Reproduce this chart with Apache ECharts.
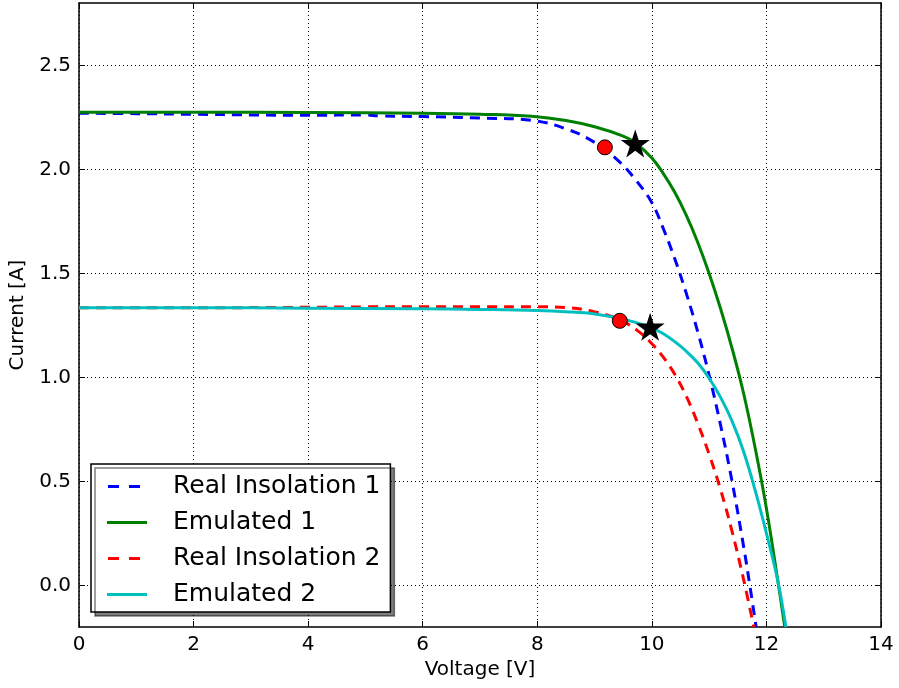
<!DOCTYPE html>
<html>
<head>
<meta charset="utf-8">
<script src="https://cdn.jsdelivr.net/npm/echarts@6/dist/echarts.min.js"></script>
<style>
  html, body { margin: 0; padding: 0; background: #fff; }
  #chart { width: 899px; height: 688px; }
</style>
</head>
<body>
<div id="chart"></div>
<script>
// I-V curves, [voltage, current] pairs
const real1 = [
  [0, 2.27], [1, 2.268], [2, 2.265], [3, 2.262], [4, 2.26], [5, 2.262], [5.25, 2.257],
  [6, 2.254], [7, 2.247], [7.9, 2.236], [8.5, 2.195], [9, 2.13], [9.44, 2.035],
  [9.73, 1.945], [10, 1.84], [10.2, 1.715], [10.4, 1.57], [10.6, 1.405], [10.8, 1.22],
  [11.0, 1.01], [11.2, 0.77], [11.4, 0.5], [11.6, 0.19], [11.71, 0.0], [11.82, -0.2],
];
const emulated1 = [
  [0, 2.275], [2, 2.275], [4, 2.274], [6, 2.27], [7, 2.265], [7.9, 2.255], [8.5, 2.235],
  [9, 2.205], [9.5, 2.16], [9.71, 2.128], [10, 2.055], [10.2, 1.98], [10.4, 1.89],
  [10.6, 1.78], [10.8, 1.65], [11.0, 1.5], [11.2, 1.33], [11.4, 1.14], [11.6, 0.925],
  [11.8, 0.665], [12.0, 0.37], [12.2, 0.02], [12.32, -0.2],
];
const real2 = [
  [0, 1.335], [2, 1.335], [4, 1.337], [5, 1.339], [6, 1.34], [7, 1.34], [8, 1.34],
  [8.5, 1.336], [9, 1.315], [9.44, 1.277], [9.75, 1.225], [10, 1.162], [10.2, 1.097],
  [10.4, 1.015], [10.6, 0.91], [10.8, 0.78], [11.0, 0.63], [11.2, 0.46], [11.4, 0.26],
  [11.6, 0.03], [11.78, -0.2],
];
const emulated2 = [
  [0, 1.335], [2, 1.335], [4, 1.333], [6, 1.33], [7, 1.327], [8, 1.322], [8.5, 1.316],
  [9, 1.305], [9.5, 1.28], [9.97, 1.242], [10.2, 1.21], [10.4, 1.172], [10.6, 1.126],
  [10.8, 1.07], [11.0, 0.996], [11.2, 0.904], [11.4, 0.79], [11.6, 0.645], [11.8, 0.46],
  [12.0, 0.25], [12.2, 0.02], [12.34, -0.2],
];
// operating points
const mppReal = [[9.18, 2.106], [9.44, 1.272]];
const mppEmulated = [[9.71, 2.125], [9.97, 1.243]];

const legendNames = ['Real Insolation 1', 'Emulated 1', 'Real Insolation 2', 'Emulated 2'];
const yTickValues = [0, 0.5, 1, 1.5, 2, 2.5];
const xRange = { min: 0, max: 14, interval: 2 };
const yRange = { min: -0.2, max: 2.8 };

const font = 'DejaVu Sans, sans-serif';
const gridLine = { show: true, lineStyle: { color: '#000', type: [1, 3], width: 1 } };
const frame = { show: true, onZero: false, lineStyle: { color: '#000', width: 1.5 } };
const tickIn = { show: true, inside: true, length: 6, lineStyle: { color: '#000', width: 1 } };
const solidIcon = 'path://M0,0H40V3H0Z';
const dashIcon = 'path://M0,0L0,3M1,0H12V3H1Z M22,0H33V3H22Z M40,0L40,3';

const chart = echarts.init(document.getElementById('chart'), null, { renderer: 'canvas' });

function lineSeries(name, data, color, dashed) {
  return {
    name, type: 'line', data, symbol: 'none', smooth: 0.4,
    xAxisIndex: 0, yAxisIndex: 0, z: 3,
    lineStyle: { color, width: 3, type: dashed ? [10, 7] : 'solid' },
    itemStyle: { color },
  };
}

chart.setOption({
  animation: false,
  textStyle: { fontFamily: font },
  grid: { left: 79, right: 18, top: 3, bottom: 61 },
  legend: {
    data: legendNames.map((n, i) => ({ name: n, icon: i % 2 === 0 ? dashIcon : solidIcon })),
    orient: 'vertical', left: 91, top: 464,
    itemWidth: 40, itemHeight: 3, itemGap: 11,
    padding: [10, 10, 5, 16],
    itemStyle: { borderWidth: 0 },
    backgroundColor: '#fff', borderColor: '#000', borderWidth: 1.5, borderRadius: 0,
    shadowColor: 'rgba(0,0,0,0.5)', shadowOffsetX: 4, shadowOffsetY: 4, shadowBlur: 0,
    textStyle: { fontSize: 25, lineHeight: 25, color: '#000', fontFamily: font, padding: [0, 0, 0, 21] },
  },
  xAxis: [
    {
      type: 'value', ...xRange, position: 'bottom',
      name: 'Voltage [V]', nameLocation: 'middle', nameGap: 29,
      nameTextStyle: { fontSize: 20, color: '#000', fontFamily: font },
      axisLine: frame, axisTick: tickIn, splitLine: gridLine,
      axisLabel: { fontSize: 20, color: '#000', margin: 8, fontFamily: font },
    },
    {
      type: 'value', ...xRange, position: 'top',
      axisLine: frame, axisTick: tickIn, splitLine: { show: false }, axisLabel: { show: false },
    },
  ],
  yAxis: [
    {
      type: 'value', ...yRange, position: 'left',
      name: 'Current [A]', nameLocation: 'middle', nameGap: 48, nameRotate: 90,
      nameTextStyle: { fontSize: 20, color: '#000', fontFamily: font },
      axisLine: frame,
      axisTick: { ...tickIn, customValues: yTickValues },
      splitLine: gridLine,
      axisLabel: {
        fontSize: 20, color: '#000', margin: 8, fontFamily: font,
        customValues: yTickValues,
        formatter: (v) => v.toFixed(1),
      },
    },
    {
      type: 'value', ...yRange, position: 'right',
      axisLine: frame,
      axisTick: { ...tickIn, customValues: yTickValues },
      splitLine: { show: false }, axisLabel: { show: false },
    },
  ],
  series: [
    lineSeries(legendNames[0], real1, '#0000ff', true),
    lineSeries(legendNames[1], emulated1, '#008000', false),
    lineSeries(legendNames[2], real2, '#ff0000', true),
    lineSeries(legendNames[3], emulated2, '#00bfbf', false),
    {
      name: 'mpp-real', type: 'scatter', data: mppReal, symbol: 'circle', symbolSize: 15, z: 5,
      itemStyle: { color: '#ff0000', borderColor: '#000', borderWidth: 1, opacity: 1 },
    },
    {
      name: 'mpp-emulated', type: 'scatter', data: mppEmulated,
      symbol: 'path://M0,-1 L0.2245,-0.309 L0.951,-0.309 L0.363,0.118 L0.588,0.809 L0,0.382 L-0.588,0.809 L-0.363,0.118 L-0.951,-0.309 L-0.2245,-0.309 Z',
      symbolSize: [29, 28], z: 5,
      itemStyle: { color: '#000', opacity: 1 },
    },
  ],
});
</script>
</body>
</html>
